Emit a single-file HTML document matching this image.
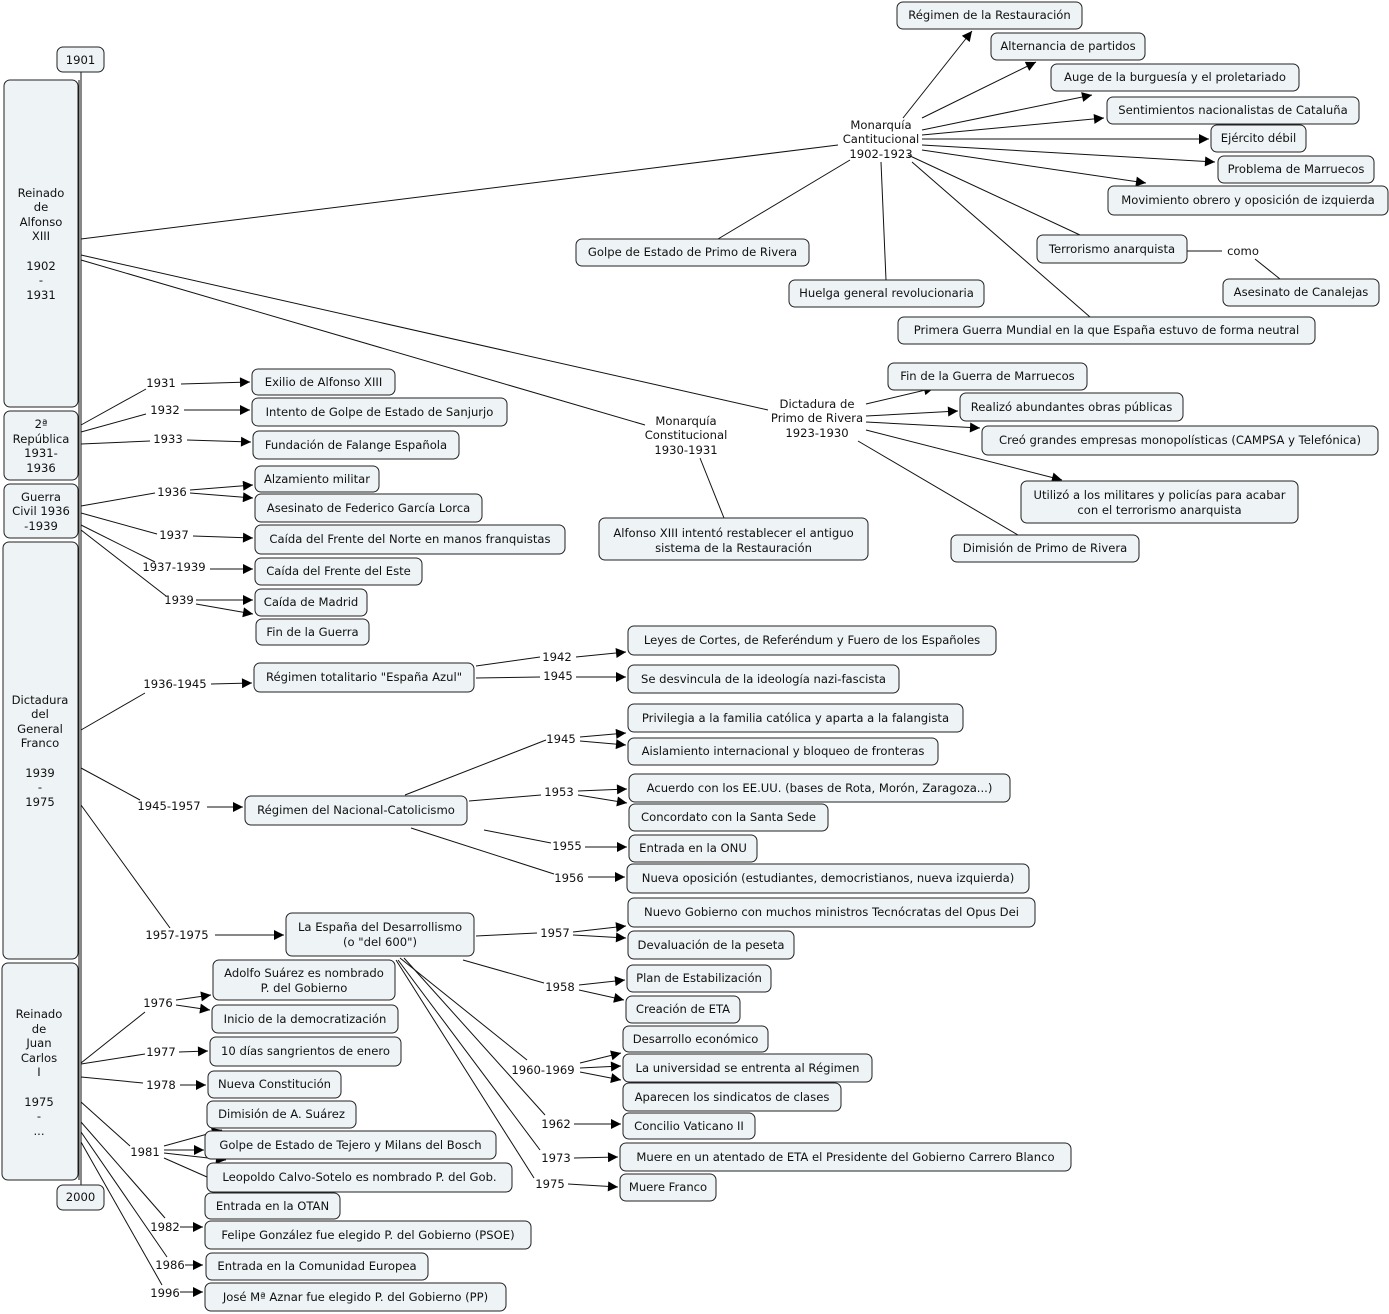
<!DOCTYPE html>
<html><head><meta charset="utf-8"><style>
html,body{margin:0;padding:0;background:#fff}
svg{display:block}
text{font-family:"DejaVu Sans","Liberation Sans",sans-serif;font-size:11.6px;fill:#111;text-anchor:middle;dominant-baseline:central}
rect{fill:#eef3f5;stroke:#222;stroke-width:1}
line,polyline{stroke:#111;stroke-width:1;fill:none}
.a{marker-end:url(#ar)}
</style></head><body>
<svg width="1389" height="1314" viewBox="0 0 1389 1314" xmlns="http://www.w3.org/2000/svg">
<defs><marker id="ar" viewBox="0 0 10 10" refX="10" refY="5" markerWidth="14" markerHeight="10" markerUnits="userSpaceOnUse" orient="auto"><path d="M0,0 L10,5 L0,10 z" fill="#000"/></marker></defs>

<!-- timeline -->
<line x1="81" y1="72" x2="81" y2="1185"/>
<line x1="79" y1="80" x2="79" y2="1180"/>

<!-- connectors -->
<line x1="81" y1="239" x2="838" y2="145"/>
<line x1="81" y1="255" x2="768" y2="410"/>
<line x1="81" y1="260" x2="645" y2="425"/>
<line class="a" x1="903" y1="118" x2="972" y2="31"/>
<line class="a" x1="922" y1="118" x2="1036" y2="62"/>
<line class="a" x1="922" y1="130" x2="1092" y2="95"/>
<line class="a" x1="922" y1="135" x2="1104" y2="118"/>
<line class="a" x1="922" y1="139" x2="1209" y2="139"/>
<line class="a" x1="922" y1="145" x2="1215" y2="162"/>
<line class="a" x1="922" y1="150" x2="1146" y2="183"/>
<line x1="908" y1="155" x2="1080" y2="235"/>
<line x1="912" y1="162" x2="1090" y2="317"/>
<line x1="881" y1="162" x2="886" y2="280"/>
<line x1="850" y1="160" x2="718" y2="239"/>
<line x1="1187" y1="251" x2="1222" y2="251"/>
<line x1="1255" y1="259" x2="1280" y2="279"/>
<line class="a" x1="866" y1="404" x2="934" y2="388"/>
<line class="a" x1="866" y1="416" x2="958" y2="411"/>
<line class="a" x1="866" y1="422" x2="980" y2="428"/>
<line class="a" x1="866" y1="430" x2="1062" y2="480"/>
<line x1="858" y1="441" x2="1018" y2="535"/>
<line x1="700" y1="458" x2="724" y2="518"/>

<line x1="81" y1="425" x2="146" y2="389"/><line class="a" x1="181" y1="384" x2="250" y2="382"/>
<line x1="81" y1="432" x2="146" y2="414"/><line class="a" x1="184" y1="410" x2="250" y2="410"/>
<line x1="81" y1="444" x2="150" y2="441"/><line class="a" x1="187" y1="440" x2="251" y2="442"/>
<line x1="81" y1="506" x2="155" y2="493"/><line class="a" x1="190" y1="490" x2="253" y2="485"/><line class="a" x1="190" y1="493" x2="253" y2="498"/>
<line x1="81" y1="513" x2="157" y2="534"/><line class="a" x1="193" y1="536" x2="253" y2="538"/>
<line x1="81" y1="525" x2="155" y2="562"/><line class="a" x1="210" y1="569" x2="253" y2="569"/>
<line x1="81" y1="530" x2="166" y2="596"/><line class="a" x1="196" y1="600" x2="253" y2="600"/><line class="a" x1="196" y1="604" x2="253" y2="614"/>

<line x1="81" y1="730" x2="145" y2="693"/><line class="a" x1="211" y1="684" x2="252" y2="683"/>
<line x1="476" y1="666" x2="540" y2="657"/><line class="a" x1="576" y1="657" x2="626" y2="652"/>
<line x1="476" y1="678" x2="540" y2="677"/><line class="a" x1="576" y1="677" x2="626" y2="677"/>
<line x1="81" y1="768" x2="140" y2="800"/><line class="a" x1="207" y1="807" x2="243" y2="807"/>
<line x1="405" y1="795" x2="546" y2="740"/><line class="a" x1="580" y1="737" x2="626" y2="733"/><line class="a" x1="580" y1="741" x2="626" y2="745"/>
<line x1="469" y1="801" x2="541" y2="795"/><line class="a" x1="578" y1="791" x2="627" y2="789"/><line class="a" x1="578" y1="795" x2="627" y2="803"/>
<line x1="484" y1="830" x2="551" y2="843"/><line class="a" x1="585" y1="847" x2="627" y2="847"/>
<line x1="411" y1="828" x2="554" y2="874"/><line class="a" x1="588" y1="877" x2="625" y2="877"/>
<line x1="81" y1="805" x2="170" y2="928"/><line class="a" x1="215" y1="935" x2="284" y2="935"/>
<line x1="476" y1="936" x2="537" y2="933"/><line class="a" x1="573" y1="932" x2="626" y2="926"/><line class="a" x1="573" y1="935" x2="626" y2="938"/>
<line x1="463" y1="960" x2="544" y2="983"/><line class="a" x1="579" y1="985" x2="625" y2="980"/><line class="a" x1="579" y1="990" x2="624" y2="1000"/>
<line x1="400" y1="958" x2="527" y2="1060"/><line class="a" x1="580" y1="1063" x2="621" y2="1053"/><line class="a" x1="580" y1="1068" x2="621" y2="1066"/><line class="a" x1="580" y1="1072" x2="621" y2="1080"/>
<line x1="404" y1="958" x2="545" y2="1115"/><line class="a" x1="574" y1="1124" x2="621" y2="1124"/>
<line x1="398" y1="960" x2="540" y2="1150"/><line class="a" x1="574" y1="1158" x2="618" y2="1157"/>
<line x1="396" y1="960" x2="534" y2="1178"/><line class="a" x1="568" y1="1184" x2="618" y2="1187"/>

<line x1="81" y1="1063" x2="145" y2="1012"/><line class="a" x1="176" y1="1000" x2="211" y2="995"/><line class="a" x1="176" y1="1005" x2="210" y2="1010"/>
<line x1="81" y1="1064" x2="145" y2="1054"/><line class="a" x1="179" y1="1052" x2="208" y2="1051"/>
<line x1="81" y1="1077" x2="143" y2="1083"/><line class="a" x1="180" y1="1085" x2="206" y2="1085"/>
<line x1="81" y1="1102" x2="130" y2="1146"/><line class="a" x1="164" y1="1146" x2="222" y2="1130"/><line class="a" x1="164" y1="1150" x2="204" y2="1150"/><line class="a" x1="164" y1="1153" x2="226" y2="1160"/><line x1="164" y1="1158" x2="207" y2="1177"/>
<line x1="81" y1="1122" x2="165" y2="1218"/><line class="a" x1="180" y1="1227" x2="203" y2="1227"/>
<line x1="81" y1="1132" x2="167" y2="1257"/><line class="a" x1="185" y1="1265" x2="203" y2="1265"/>
<line x1="81" y1="1142" x2="162" y2="1285"/><line class="a" x1="180" y1="1292" x2="203" y2="1292"/>

<!-- left column -->
<rect x="57" y="47" width="47" height="25" rx="6"/><text x="80.5" y="60">1901</text>
<rect x="4" y="80" width="74" height="327" rx="6"/>
<text x="41" y="193">Reinado</text><text x="41" y="207">de</text><text x="41" y="222">Alfonso</text><text x="41" y="236">XIII</text><text x="41" y="266">1902</text><text x="41" y="280">-</text><text x="41" y="295">1931</text>
<rect x="4" y="411" width="74" height="69" rx="6"/>
<text x="41" y="424">2ª</text><text x="41" y="439">República</text><text x="41" y="453">1931-</text><text x="41" y="468">1936</text>
<rect x="4" y="484" width="74" height="54" rx="6"/>
<text x="41" y="497">Guerra</text><text x="41" y="511">Civil 1936</text><text x="41" y="526">-1939</text>
<rect x="3" y="542" width="75" height="417" rx="6"/>
<text x="40" y="700">Dictadura</text><text x="40" y="714">del</text><text x="40" y="729">General</text><text x="40" y="743">Franco</text><text x="40" y="773">1939</text><text x="40" y="787">-</text><text x="40" y="802">1975</text>
<rect x="2" y="963" width="76" height="217" rx="6"/>
<text x="39" y="1014">Reinado</text><text x="39" y="1029">de</text><text x="39" y="1043">Juan</text><text x="39" y="1058">Carlos</text><text x="39" y="1072">I</text><text x="39" y="1102">1975</text><text x="39" y="1116">-</text><text x="39" y="1131">...</text>
<rect x="57" y="1185" width="47" height="25" rx="6"/><text x="80.5" y="1197">2000</text>

<!-- top right -->
<rect x="897" y="2" width="185" height="27" rx="6"/><text x="989.5" y="15">Régimen de la Restauración</text>
<rect x="991" y="33" width="154" height="27" rx="6"/><text x="1068" y="46">Alternancia de partidos</text>
<rect x="1051" y="64" width="248" height="27" rx="6"/><text x="1175" y="77">Auge de la burguesía y el proletariado</text>
<rect x="1107" y="97" width="252" height="27" rx="6"/><text x="1233" y="110">Sentimientos nacionalistas de Cataluña</text>
<rect x="1211" y="125" width="95" height="27" rx="6"/><text x="1258.5" y="138">Ejército débil</text>
<rect x="1218" y="156" width="156" height="27" rx="6"/><text x="1296" y="169">Problema de Marruecos</text>
<rect x="1108" y="186" width="280" height="29" rx="6"/><text x="1248" y="200">Movimiento obrero y oposición de izquierda</text>
<rect x="1037" y="235" width="150" height="28" rx="6"/><text x="1112" y="249">Terrorismo anarquista</text>
<text x="1243" y="251">como</text>
<rect x="1223" y="279" width="156" height="27" rx="6"/><text x="1301" y="292">Asesinato de Canalejas</text>
<rect x="898" y="317" width="417" height="27" rx="6"/><text x="1106.5" y="330">Primera Guerra Mundial en la que España estuvo de forma neutral</text>
<rect x="789" y="280" width="195" height="27" rx="6"/><text x="886.5" y="293">Huelga general revolucionaria</text>
<rect x="576" y="239" width="233" height="27" rx="6"/><text x="692.5" y="252">Golpe de Estado de Primo de Rivera</text>
<text x="881" y="125">Monarquía</text><text x="881" y="139">Cantitucional</text><text x="881" y="154">1902-1923</text>

<text x="817" y="404">Dictadura de</text><text x="817" y="418">Primo de Rivera</text><text x="817" y="433">1923-1930</text>
<rect x="888" y="363" width="199" height="27" rx="6"/><text x="987.5" y="376">Fin de la Guerra de Marruecos</text>
<rect x="960" y="393" width="223" height="28" rx="6"/><text x="1071.5" y="407">Realizó abundantes obras públicas</text>
<rect x="982" y="426" width="396" height="29" rx="6"/><text x="1180" y="440">Creó grandes empresas monopolísticas (CAMPSA y Telefónica)</text>
<rect x="1021" y="481" width="277" height="42" rx="6"/><text x="1159.5" y="495">Utilizó a los militares y policías para acabar</text><text x="1159.5" y="510">con el terrorismo anarquista</text>
<rect x="951" y="535" width="188" height="27" rx="6"/><text x="1045" y="548">Dimisión de Primo de Rivera</text>
<text x="686" y="421">Monarquía</text><text x="686" y="435">Constitucional</text><text x="686" y="450">1930-1931</text>
<rect x="599" y="518" width="269" height="42" rx="6"/><text x="733.5" y="533">Alfonso XIII intentó restablecer el antiguo</text><text x="733.5" y="548">sistema de la Restauración</text>

<!-- middle -->
<rect x="252" y="369" width="143" height="26" rx="6"/><text x="323.5" y="382">Exilio de Alfonso XIII</text>
<rect x="252" y="398" width="255" height="28" rx="6"/><text x="379.5" y="412">Intento de Golpe de Estado de Sanjurjo</text>
<rect x="253" y="431" width="206" height="28" rx="6"/><text x="356" y="445">Fundación de Falange Española</text>
<rect x="255" y="466" width="124" height="26" rx="6"/><text x="317" y="479">Alzamiento militar</text>
<rect x="255" y="494" width="227" height="28" rx="6"/><text x="368.5" y="508">Asesinato de Federico García Lorca</text>
<rect x="255" y="525" width="310" height="29" rx="6"/><text x="410" y="539">Caída del Frente del Norte en manos franquistas</text>
<rect x="255" y="558" width="167" height="27" rx="6"/><text x="338.5" y="571">Caída del Frente del Este</text>
<rect x="255" y="589" width="112" height="27" rx="6"/><text x="311" y="602">Caída de Madrid</text>
<rect x="256" y="619" width="113" height="26" rx="6"/><text x="312.5" y="632">Fin de la Guerra</text>
<rect x="254" y="663" width="220" height="29" rx="6"/><text x="364" y="677">Régimen totalitario "España Azul"</text>
<rect x="628" y="626" width="368" height="29" rx="6"/><text x="812" y="640">Leyes de Cortes, de Referéndum y Fuero de los Españoles</text>
<rect x="628" y="665" width="271" height="28" rx="6"/><text x="763.5" y="679">Se desvincula de la ideología nazi-fascista</text>
<rect x="628" y="704" width="335" height="28" rx="6"/><text x="795.5" y="718">Privilegia a la familia católica y aparta a la falangista</text>
<rect x="628" y="738" width="310" height="27" rx="6"/><text x="783" y="751">Aislamiento internacional y bloqueo de fronteras</text>
<rect x="245" y="796" width="222" height="29" rx="6"/><text x="356" y="810">Régimen del Nacional-Catolicismo</text>
<rect x="629" y="774" width="381" height="28" rx="6"/><text x="819.5" y="788">Acuerdo con los EE.UU. (bases de Rota, Morón, Zaragoza...)</text>
<rect x="629" y="804" width="199" height="27" rx="6"/><text x="728.5" y="817">Concordato con la Santa Sede</text>
<rect x="629" y="835" width="128" height="27" rx="6"/><text x="693" y="848">Entrada en la ONU</text>
<rect x="627" y="864" width="402" height="29" rx="6"/><text x="828" y="878">Nueva oposición (estudiantes, democristianos, nueva izquierda)</text>
<rect x="286" y="913" width="188" height="43" rx="6"/><text x="380" y="927">La España del Desarrollismo</text><text x="380" y="942">(o "del 600")</text>
<rect x="628" y="898" width="407" height="29" rx="6"/><text x="831.5" y="912">Nuevo Gobierno con muchos ministros Tecnócratas del Opus Dei</text>
<rect x="628" y="931" width="166" height="28" rx="6"/><text x="711" y="945">Devaluación de la peseta</text>
<rect x="627" y="965" width="144" height="27" rx="6"/><text x="699" y="978">Plan de Estabilización</text>
<rect x="626" y="996" width="114" height="27" rx="6"/><text x="683" y="1009">Creación de ETA</text>
<rect x="623" y="1026" width="145" height="26" rx="6"/><text x="695.5" y="1039">Desarrollo económico</text>
<rect x="623" y="1054" width="249" height="28" rx="6"/><text x="747.5" y="1068">La universidad se entrenta al Régimen</text>
<rect x="623" y="1083" width="218" height="28" rx="6"/><text x="732" y="1097">Aparecen los sindicatos de clases</text>
<rect x="623" y="1113" width="132" height="26" rx="6"/><text x="689" y="1126">Concilio Vaticano II</text>
<rect x="620" y="1143" width="451" height="28" rx="6"/><text x="845.5" y="1157">Muere en un atentado de ETA el Presidente del Gobierno Carrero Blanco</text>
<rect x="620" y="1174" width="96" height="27" rx="6"/><text x="668" y="1187">Muere Franco</text>
<rect x="213" y="960" width="182" height="40" rx="6"/><text x="304" y="973">Adolfo Suárez es nombrado</text><text x="304" y="988">P. del Gobierno</text>
<rect x="212" y="1005" width="186" height="28" rx="6"/><text x="305" y="1019">Inicio de la democratización</text>
<rect x="210" y="1037" width="191" height="29" rx="6"/><text x="305.5" y="1051">10 días sangrientos de enero</text>
<rect x="208" y="1071" width="133" height="27" rx="6"/><text x="274.5" y="1084">Nueva Constitución</text>
<rect x="207" y="1101" width="149" height="27" rx="6"/><text x="281.5" y="1114">Dimisión de A. Suárez</text>
<rect x="205" y="1131" width="291" height="28" rx="6"/><text x="350.5" y="1145">Golpe de Estado de Tejero y Milans del Bosch</text>
<rect x="207" y="1163" width="305" height="29" rx="6"/><text x="359.5" y="1177">Leopoldo Calvo-Sotelo es nombrado P. del Gob.</text>
<rect x="205" y="1193" width="135" height="26" rx="6"/><text x="272.5" y="1206">Entrada en la OTAN</text>
<rect x="205" y="1221" width="326" height="28" rx="6"/><text x="368" y="1235">Felipe González fue elegido P. del Gobierno (PSOE)</text>
<rect x="206" y="1253" width="222" height="27" rx="6"/><text x="317" y="1266">Entrada en la Comunidad Europea</text>
<rect x="205" y="1283" width="301" height="28" rx="6"/><text x="355.5" y="1297">José Mª Aznar fue elegido P. del Gobierno (PP)</text>

<!-- year labels -->
<text x="161" y="383">1931</text><text x="165" y="410">1932</text><text x="168" y="439">1933</text>
<text x="172" y="492">1936</text><text x="174" y="535">1937</text><text x="174" y="567">1937-1939</text><text x="179" y="600">1939</text>
<text x="175" y="684">1936-1945</text><text x="557" y="657">1942</text><text x="558" y="676">1945</text>
<text x="561" y="739">1945</text><text x="169" y="806">1945-1957</text><text x="559" y="792">1953</text><text x="567" y="846">1955</text><text x="569" y="878">1956</text>
<text x="177" y="935">1957-1975</text><text x="555" y="933">1957</text><text x="560" y="987">1958</text><text x="543" y="1070">1960-1969</text>
<text x="556" y="1124">1962</text><text x="556" y="1158">1973</text><text x="550" y="1184">1975</text>
<text x="158" y="1003">1976</text><text x="161" y="1052">1977</text><text x="161" y="1085">1978</text><text x="145" y="1152">1981</text>
<text x="165" y="1227">1982</text><text x="170" y="1265">1986</text><text x="165" y="1293">1996</text>
</svg>
</body></html>
